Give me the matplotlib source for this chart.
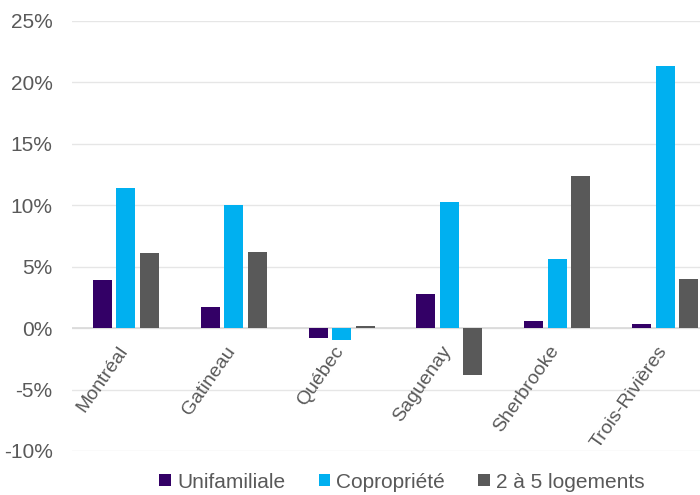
import matplotlib
matplotlib.use("Agg")
import matplotlib.pyplot as plt
import numpy as np
from matplotlib.patches import Patch
from matplotlib.ticker import FuncFormatter, MultipleLocator

plt.rcParams["font.family"] = ["Liberation Sans", "DejaVu Sans"]

villes = ["Montréal", "Gatineau", "Québec", "Saguenay", "Sherbrooke", "Trois-Rivières"]
unifamiliale = [3.9, 1.7, -0.8, 2.8, 0.6, 0.3]
copropriete = [11.4, 10.0, -1.0, 10.3, 5.6, 21.3]
plex = [6.1, 6.2, 0.2, -3.8, 12.4, 4.0]

series = [
    ("Unifamiliale", unifamiliale, "#330066"),
    ("Copropriété", copropriete, "#00b0f0"),
    ("2 à 5 logements", plex, "#595959"),
]

text_color = "#595959"
width = 0.176
step = 0.218

fig = plt.figure(figsize=(7.0, 4.95), dpi=100)
ax = fig.add_axes([72 / 700, 1 - 451 / 495, 647 / 700, 430 / 495])

x = np.arange(len(villes))
for i, (label, values, color) in enumerate(series):
    ax.bar(x + (i - 1) * step, values, width=width, color=color, label=label, zorder=3)

ax.set_xlim(-0.5, len(villes) - 0.5)
ax.set_ylim(-10, 25)
ax.yaxis.set_major_locator(MultipleLocator(5))
ax.yaxis.set_major_formatter(FuncFormatter(lambda v, _: f"{v:.0f}%"))
ax.grid(axis="y", color="#e6e6e6", linewidth=1.0, zorder=0)
ax.axhline(0, color="#d9d9d9", linewidth=1.2, zorder=2)
for spine in ax.spines.values():
    spine.set_visible(False)

ax.tick_params(axis="y", length=0, pad=14, labelsize=15, labelcolor=text_color)
ax.set_xticks([])
# category names hang below the zero line, slanted like the original axis labels
for xi, name in zip(x, villes):
    ax.text(xi - 0.08, -1.2, name, rotation=55, rotation_mode="anchor", ha="right", va="top",
            fontsize=14, color=text_color)

handles = [Patch(facecolor=c, label=l) for l, _, c in series]
fig.legend(handles=handles, loc="center", bbox_to_anchor=(402 / 700, 1 - 482 / 495),
           ncol=3, frameon=False, fontsize=15, labelcolor=text_color,
           handlelength=0.55, handleheight=0.55, handletextpad=0.3, columnspacing=1.6)

fig.savefig("out.png", dpi=100)
